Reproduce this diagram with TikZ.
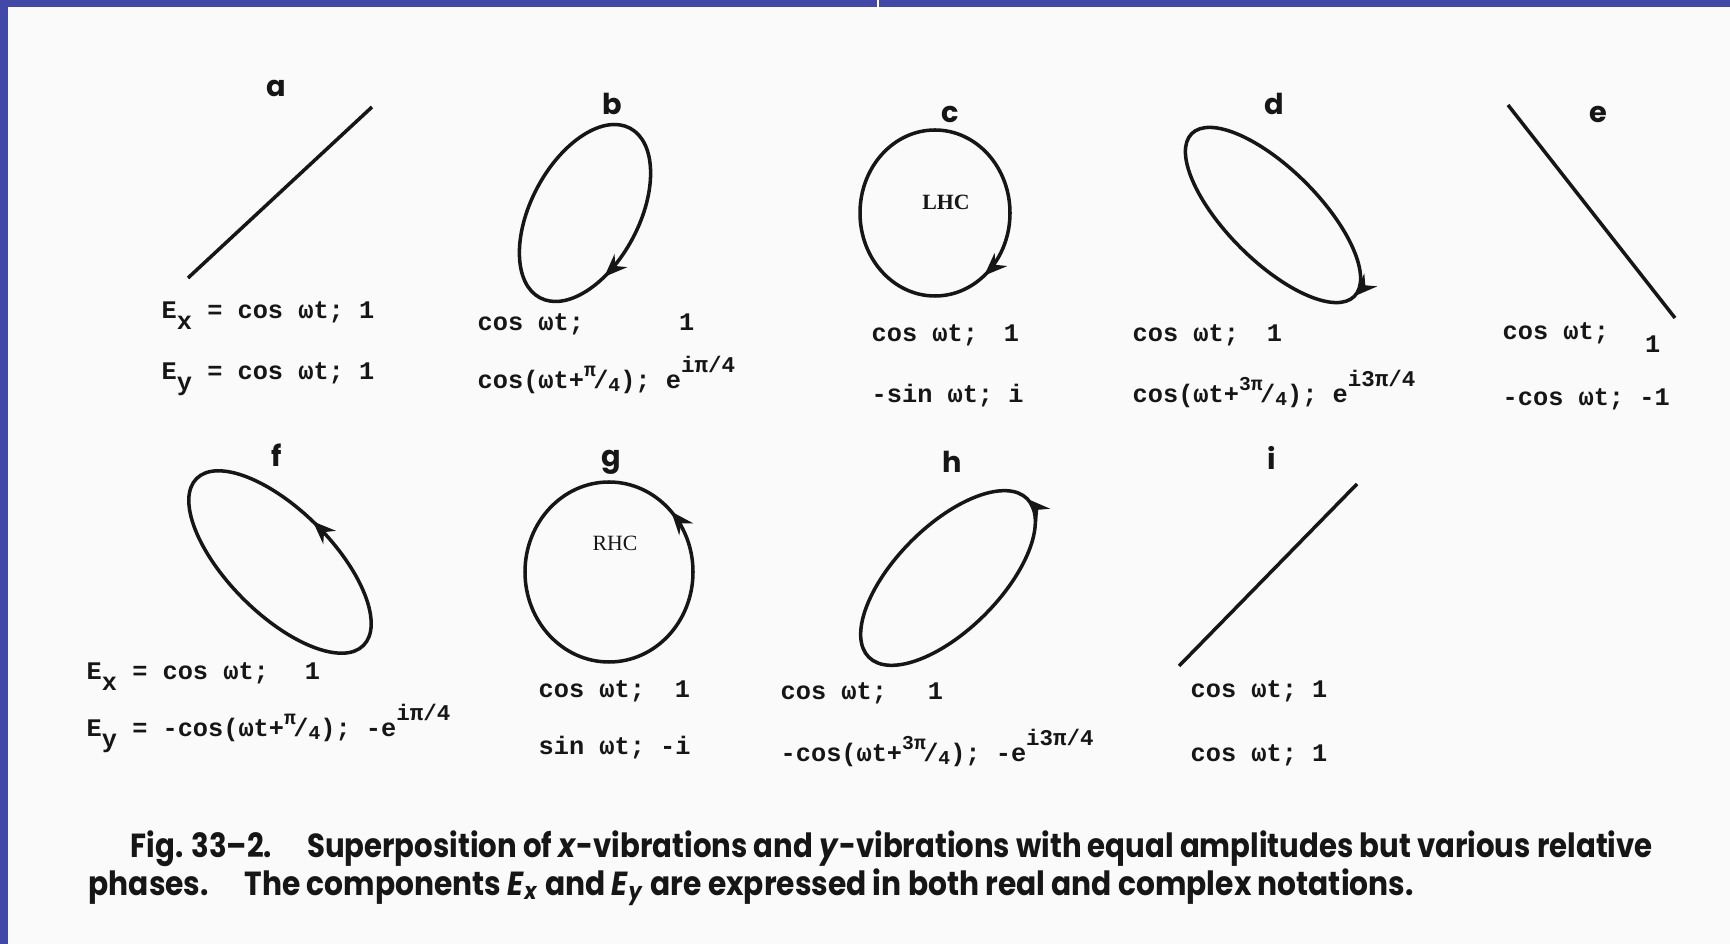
\documentclass[tikz,border=0pt]{standalone}
\usepackage{fontspec}
\usepackage{graphicx}
\setmainfont{Poppins}
\newfontfamily\monofont{Liberation Mono}
\newfontfamily\serifont{Liberation Serif}
\usetikzlibrary{arrows.meta,decorations.markings}

\definecolor{frameblue}{RGB}{66,72,168}
\definecolor{ink}{RGB}{22,22,22}
\definecolor{paper}{RGB}{250,250,250}

% sizes and small typewriter helpers
\newcommand\eqsize{\fontsize{7.2}{8}\selectfont}
\newcommand\supsize{\fontsize{5.6}{6}\selectfont}
\newcommand\sub[1]{\raisebox{-.8ex}{#1}}
\newcommand\frc[2]{\raisebox{.9ex}{\supsize#1}\kern-.1em/\raisebox{-.2ex}{\supsize#2}}
\newcommand\pw[1]{\raisebox{1.2ex}{\fontsize{6.4}{7}\selectfont#1}}

\tikzset{
  trace/.style={draw=ink, line width=1pt},
  eq/.style={anchor=base west, inner sep=0pt, text=ink, font=\monofont\bfseries\eqsize},
  panel/.style={anchor=base, inner sep=0pt, text=ink, font=\bfseries\fontsize{8.2}{9}\selectfont},
  hand/.style={inner sep=0pt, text=ink, font=\serifont\fontsize{6.2}{7}\selectfont},
  caption/.style={anchor=base west, inner sep=0pt, text=ink, font=\bfseries\fontsize{9.5}{10}\selectfont},
  cw/.style={postaction={decorate}, decoration={markings, mark=at position #1 with {\arrow{>}}}},
  ccw/.style={postaction={decorate}, decoration={markings, mark=at position #1 with {\arrowreversed{>}}}},
}

\begin{document}
\begin{tikzpicture}[x=0.1mm, y=-0.1mm, >={Stealth[length=2.3mm, width=1.8mm]}]
  % page and scan frame
  \useasboundingbox (0,0) rectangle (1730,944);
  \fill[paper] (0,0) rectangle (1730,944);
  \fill[frameblue] (0,0) rectangle (1730,7);
  \fill[frameblue] (0,0) rectangle (8,944);
  \draw[white, line width=0.6pt] (878,0) -- (878,7);

  % panel letters
  \foreach \n/\x/\y in {a/276/97, b/612/115, c/950/123, d/1274/115, e/1598/123,
                        f/277/467, g/611/467, h/952/473, i/1272/470}
    \node[panel] (lbl\n) at (\x,\y) {\n};

  % top row
  \draw[trace] (188,278) -- (372,107);
  \draw[trace, cw=0.35, rotate around={62:(585,213)}] (585,213) ellipse [x radius=96, y radius=54];
  \draw[trace, cw=0.14] (935,213) ellipse [x radius=75, y radius=83];
  \node[hand, font=\serifont\bfseries\fontsize{6.2}{7}\selectfont] (lhc) at (946,202) {LHC};
  \draw[trace, cw=0.5, rotate around={135:(1273,215)}] (1273,215) ellipse [x radius=115, y radius=46];
  \draw[trace] (1508,105) -- (1675,318);

  % bottom row
  \draw[trace, ccw=0.24, rotate around={135:(280,562)}] (280,562) ellipse [x radius=118, y radius=52];
  \draw[trace, ccw=0.88] (609,572) ellipse [x radius=84, y radius=90];
  \node[hand] (rhc) at (615,543) {RHC};
  \draw[trace, ccw=0.5, rotate around={-135:(948,578)}] (948,578) ellipse [x radius=112, y radius=52];
  \draw[trace] (1179,666) -- (1357,484);

  % components, top row
  \node[eq] (ax) at (161,319) {E\sub{x} = cos ωt; 1};
  \node[eq] (ay) at (161,380) {E\sub{y} = cos ωt; 1};
  \node[eq] (bx) at (477,331) {cos ωt;\hspace{9.5mm}1};
  \node[eq] (by) at (477,389) {cos(ωt+\frc{π}{4}); e\pw{iπ/4}};
  \node[eq] (cx) at (871,342) {cos ωt;\hspace{2.6mm}1};
  \node[eq] (cy) at (871,403) {-sin ωt; i};
  \node[eq] (dx) at (1132,342) {cos ωt;\hspace{2.8mm}1};
  \node[eq] (dy) at (1132,403) {cos(ωt+\frc{3π}{4}); e\pw{i3π/4}};
  \node[eq] (ex) at (1502,340) {cos ωt;\hspace{3.6mm}\raisebox{-.9ex}{1}};
  \node[eq] (ey) at (1502,406) {-cos ωt; -1};

  % components, bottom row
  \node[eq] (fx) at (86,680) {E\sub{x} = cos ωt;\hspace{3.6mm}1};
  \node[eq] (fy) at (86,737) {E\sub{y} = -cos(ωt+\frc{π}{4}); -e\pw{iπ/4}};
  \node[eq] (gx) at (538,698) {cos ωt;\hspace{3mm}1};
  \node[eq] (gy) at (538,755) {sin ωt; -i};
  \node[eq] (hx) at (780,700) {cos ωt;\hspace{4.1mm}1};
  \node[eq] (hy) at (780,762) {-cos(ωt+\frc{3π}{4}); -e\pw{i3π/4}};
  \node[eq] (ix) at (1190,698) {cos ωt; 1};
  \node[eq] (iy) at (1190,762) {cos ωt; 1};

  % caption
  \node[caption] (cap1) at (130,858) {\resizebox{152.2mm}{\height}{Fig. 33--2.\hspace{1.2em}Superposition of \textit{x}-vibrations and \textit{y}-vibrations with equal amplitudes but various relative}};
  \node[caption] (cap2) at (88,896) {\resizebox{132.5mm}{\height}{phases.\hspace{1.2em}The components \textit{E}\textsubscript{\textit{x}} and \textit{E}\textsubscript{\textit{y}} are expressed in both real and complex notations.}};
\end{tikzpicture}
\end{document}
